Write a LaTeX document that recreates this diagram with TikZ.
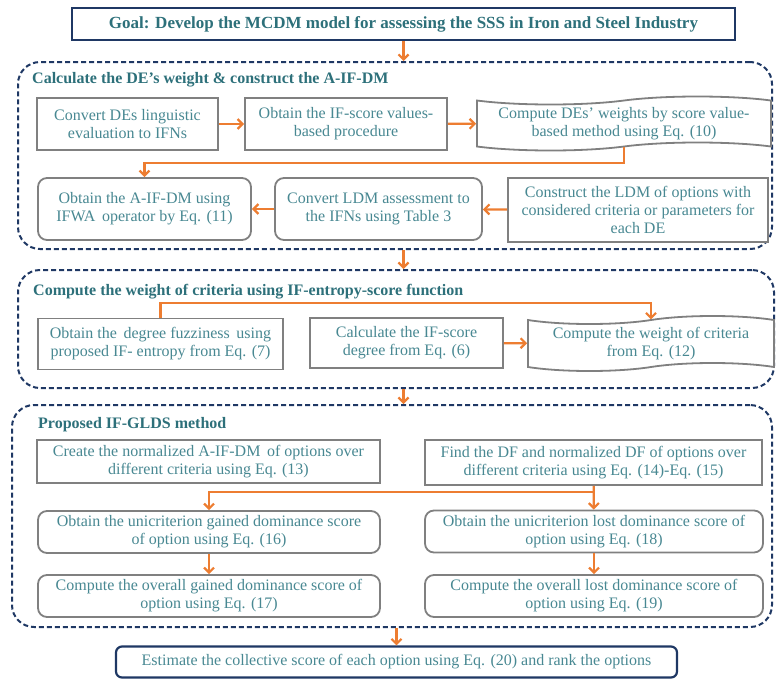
\documentclass[tikz,border=0pt]{standalone}
\usepackage{fontspec}
\setmainfont{Liberation Serif}
\usepackage{tikz}
\usetikzlibrary{shapes.symbols, arrows.meta, positioning}
\definecolor{navy}{RGB}{31,56,100}
\definecolor{ttlc}{RGB}{45,112,122}
\definecolor{txtc}{RGB}{72,136,146}
\definecolor{brdc}{RGB}{128,128,128}
\definecolor{orng}{RGB}{237,125,49}
\tikzstyle{sq}=[draw=brdc,line width=1.8pt,fill=white,text=txtc,align=center,inner sep=1pt,font=\fontsize{16}{18}\selectfont]
\tikzstyle{rd}=[sq,rounded corners=9pt]
\tikzstyle{tp}=[sq,tape,tape bend top=in and out,tape bend bottom=in and out,tape bend height=8pt]
\tikzstyle{grp}=[draw=navy,line width=2pt,dash pattern=on 5pt off 3pt,rounded corners=22pt,inner sep=0pt]
\tikzstyle{ttl}=[text=ttlc,anchor=west,inner sep=0pt,font=\bfseries\fontsize{16}{18}\selectfont]
\tikzstyle{lnk}=[draw=orng,line width=2.2pt,-{Straight Barb[length=5pt,width=10pt]}]

\begin{document}
\begin{tikzpicture}[x=1pt,y=-1pt]
    \useasboundingbox (0,0) rectangle (776,678);
    % goal and the three dashed stages
    \node[draw=navy,line width=2.4pt,minimum width=663,minimum height=32,inner sep=0pt,text=ttlc,font=\bfseries\fontsize{17}{19}\selectfont] (goal) at (403.5,24) {Goal: Develop the MCDM model for assessing the SSS in Iron and Steel Industry};
    \node[grp,minimum width=754,minimum height=187] (grp1) at (395,155.5) {};
    \node[grp,minimum width=756,minimum height=118] (grp2) at (396,329) {};
    \node[grp,minimum width=760,minimum height=222] (grp3) at (392,516) {};
    \node[draw=navy,line width=2.2pt,rounded corners=6pt,minimum width=561,minimum height=31,inner sep=0pt,text=txtc,font=\fontsize{16}{18}\selectfont] (final) at (396.5,662) {Estimate the collective score of each option using Eq. (20) and rank the options};
    \node[ttl] (ttl1) at (32,80) {Calculate the DE’s weight \& construct the A-IF-DM};
    \node[ttl] (ttl2) at (33,292) {Compute the weight of criteria using IF-entropy-score function};
    \node[ttl] (ttl3) at (38,425) {Proposed IF-GLDS method};
    % stage 1
    \node[sq,minimum width=181,minimum height=52] (conv) at (127.5,124) {Convert DEs linguistic\\evaluation to IFNs};
    \node[sq,minimum width=202,minimum height=52] (score) at (346,124) {Obtain the IF-score values-\\based procedure};
    \node[tp,minimum width=294,minimum height=54] (dew) at (624,123.5) {Compute DEs’ weights by score value-\\based method using Eq. (10)};
    \node[rd,minimum width=213,minimum height=62] (aifdm) at (144.5,209) {Obtain the A-IF-DM using\\IFWA\, operator by Eq. (11)};
    \node[rd,minimum width=207,minimum height=62] (ldmifn) at (378.5,209) {Convert LDM assessment to\\the IFNs using Table 3};
    \node[sq,minimum width=260,minimum height=64] (ldm) at (638,210) {Construct the LDM of options with\\considered criteria or parameters for\\each DE};
    % stage 2
    \node[sq,minimum width=245,minimum height=51] (fuzz) at (160.5,344) {Obtain the\, degree fuzziness\, using\\proposed IF- entropy from Eq. (7)};
    \node[sq,minimum width=193,minimum height=50] (ifsc) at (406.5,343) {Calculate the IF-score\\degree from Eq. (6)};
    \node[tp,minimum width=246,minimum height=55] (crw) at (651,343.5) {Compute the weight of criteria\\from Eq. (12)};
    % stage 3
    \node[sq,minimum width=343,minimum height=43] (norm) at (208.5,461.5) {Create the normalized A-IF-DM\, of options over\\different criteria using Eq. (13)};
    \node[sq,minimum width=337,minimum height=45] (df) at (593.5,462.5) {Find the DF and normalized DF of options over\\different criteria using Eq. (14)-Eq. (15)};
    \node[rd,minimum width=342,minimum height=42] (ugd) at (209,532) {Obtain the unicriterion gained dominance score\\of option using Eq. (16)};
    \node[rd,minimum width=338,minimum height=42] (uld) at (594,531.5) {Obtain the unicriterion lost dominance score of\\option using Eq. (18)};
    \node[rd,minimum width=342,minimum height=42] (ogd) at (209,596) {Compute the overall gained dominance score of\\option using Eq. (17)};
    \node[rd,minimum width=338,minimum height=42] (old) at (594,596) {Compute the overall lost dominance score of\\option using Eq. (19)};
    \coordinate (k1) at (0,163);
    \coordinate (k2) at (0,303);
    \coordinate (k3) at (0,492);
    % connectors
    \foreach \s/\e in {conv/score, score/dew, ldm/ldmifn, ldmifn/aifdm, ifsc/crw, df/uld, ugd/ogd, uld/old}
        \draw[lnk] (\s) -- (\e);
    \draw[lnk] (dew.south) |- (aifdm.north |- k1) -- (aifdm.north);
    \draw[lnk] (fuzz.north) |- (crw.north |- k2) -- (crw.north);
    \draw[lnk] (df.south |- k3) -| (ugd.north);
    \draw[lnk] (goal.south) -- (goal.south |- grp1.north);
    \draw[lnk] (grp1.south -| goal.south) -- (grp2.north -| goal.south);
    \draw[lnk] (grp2.south -| goal.south) -- (grp3.north -| goal.south);
    \draw[lnk] (final.north |- grp3.south) -- (final.north);
\end{tikzpicture}
\end{document}
